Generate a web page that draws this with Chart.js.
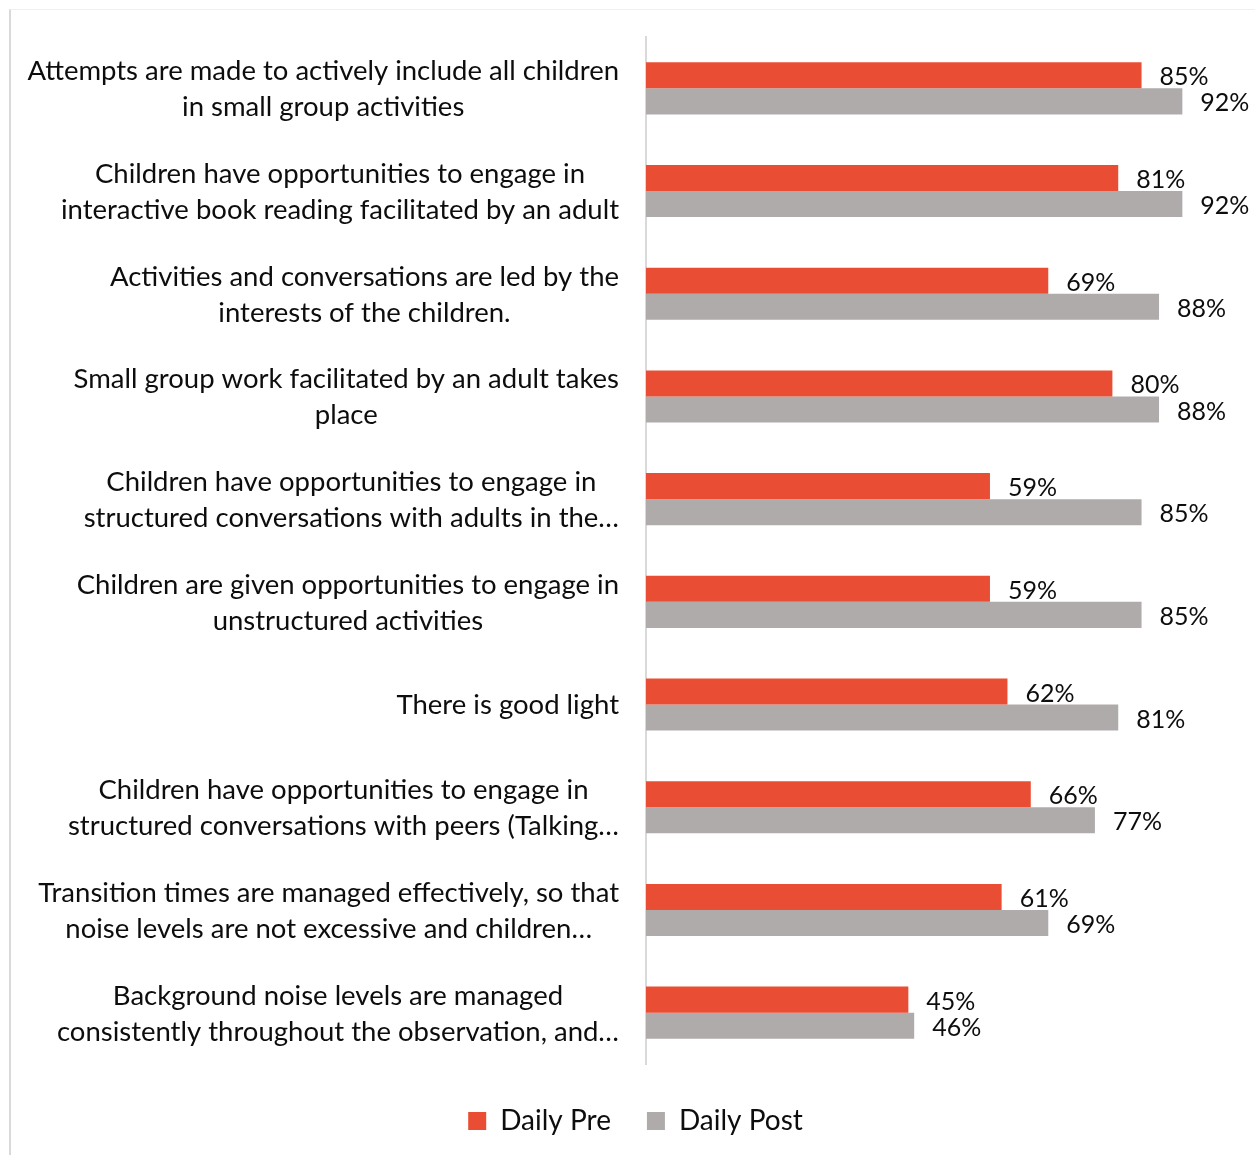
<!DOCTYPE html>
<html>
<head>
<meta charset="utf-8">
<script src="https://cdn.jsdelivr.net/npm/chart.js@4.4.1/dist/chart.umd.min.js"></script>
<style>
  html, body { margin: 0; padding: 0; background: #fff; overflow: hidden; width: 1255px; height: 1155px; }
  #frame {
    position: absolute; left: 9px; top: 9px; width: 1251px; height: 1150px;
    border-left: 2px solid #d9d9d9; border-top: 1px solid #f0f0f0;
  }
  #wrap { position: absolute; left: 0; top: 0; width: 1249px; height: 1145px; }
</style>
</head>
<body>
<div id="frame"><div id="wrap"><canvas id="chart"></canvas></div></div>
<script>
// Observation items (each entry is the wrapped lines of one label)
const categories = [
  ["Attempts are made to actively include all children", "in small group activities"],
  ["Children have opportunities to engage in", "interactive book reading facilitated by an adult"],
  ["Activities and conversations are led by the", "interests of the children."],
  ["Small group work facilitated by an adult takes", "place"],
  ["Children have opportunities to engage in", "structured conversations with adults in the\u2026"],
  ["Children are given opportunities to engage in", "unstructured activities"],
  ["There is good light"],
  ["Children have opportunities to engage in", "structured conversations with peers (Talking\u2026"],
  ["Transition times are managed effectively, so that", "noise levels are not excessive and children\u2026"],
  ["Background noise levels are managed", "consistently throughout the observation, and\u2026"]
];
const seriesNames = ["Daily Pre", "Daily Post"];
const dailyPre  = [85, 81, 69, 80, 59, 59, 62, 66, 61, 45];
const dailyPost = [92, 92, 88, 88, 85, 85, 81, 77, 69, 46];

const FONT = "Lato, 'Noto Sans', sans-serif";
const TEXT = "#0d0d0d";

// Category labels: block right-aligned against the axis, lines centred inside the block
const categoryLabels = {
  id: "categoryLabels",
  afterDraw(chart) {
    const ctx = chart.ctx;
    const y = chart.scales.y;
    const right = chart.chartArea.left - 27;
    const lineH = 36;
    ctx.save();
    ctx.font = "27.5px " + FONT;
    ctx.fillStyle = TEXT;
    ctx.textAlign = "center";
    ctx.textBaseline = "middle";
    categories.forEach((lines, i) => {
      const cy = y.getPixelForTick(i) + 1;
      const w = Math.max(...lines.map(l => ctx.measureText(l).width));
      const cx = right - w / 2;
      const top = cy - (lines.length - 1) * lineH / 2;
      lines.forEach((l, k) => ctx.fillText(l, cx, top + k * lineH));
    });
    ctx.restore();
  }
};

// Percentage labels to the right of every bar
const valueLabels = {
  id: "valueLabels",
  afterDatasetsDraw(chart) {
    const ctx = chart.ctx;
    ctx.save();
    ctx.font = "25px " + FONT;
    ctx.fillStyle = TEXT;
    ctx.textAlign = "left";
    ctx.textBaseline = "middle";
    chart.data.datasets.forEach((ds, di) => {
      chart.getDatasetMeta(di).data.forEach((bar, i) => {
        ctx.fillText(ds.data[i] + "%", bar.x + 18, bar.y + 2);
      });
    });
    ctx.restore();
  }
};

new Chart(document.getElementById("chart"), {
  type: "bar",
  data: {
    labels: categories,
    datasets: [
      { label: seriesNames[0], data: dailyPre,  backgroundColor: "#e94e34" },
      { label: seriesNames[1], data: dailyPost, backgroundColor: "#afabab" }
    ]
  },
  options: {
    indexAxis: "y",
    responsive: true,
    maintainAspectRatio: false,
    animation: false,
    events: [],
    layout: { padding: { top: 27, right: 31, bottom: 10, left: 31 } },
    datasets: { bar: { categoryPercentage: 0.507, barPercentage: 1.0 } },
    scales: {
      x: {
        min: 0, max: 100,
        display: true,
        grid: { display: false },
        border: { display: false },
        ticks: { display: false },
        afterFit(scale) { scale.height = 7; }
      },
      y: {
        grid: { display: false, drawTicks: false },
        border: { display: true, color: "#d9d9d9", width: 2 },
        ticks: { display: false },
        afterFit(scale) { scale.width = 604; }
      }
    },
    plugins: {
      tooltip: { enabled: false },
      legend: {
        position: "bottom",
        labels: {
          font: { family: FONT, size: 28 },
          color: TEXT,
          boxWidth: 18,
          boxHeight: 18,
          padding: 36
        }
      }
    }
  },
  plugins: [categoryLabels, valueLabels]
});
</script>
</body>
</html>
